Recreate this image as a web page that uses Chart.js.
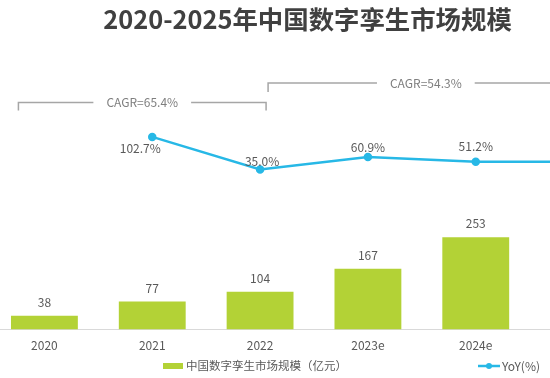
<!DOCTYPE html>
<html>
<head>
<meta charset="utf-8">
<script src="https://cdn.jsdelivr.net/npm/chart.js@4/dist/chart.umd.min.js"></script>
<style>
  html, body { margin: 0; padding: 0; background: #ffffff; overflow: hidden; width: 550px; height: 378px; }
  #wrap { position: absolute; left: -15px; top: 0; width: 658px; height: 378px; }
</style>
</head>
<body>
<div id="wrap"><canvas id="c"></canvas></div>
<script>
// ---- data ----
const categories = ['2020', '2021', '2022', '2023e', '2024e', '2025e'];
const marketSize = [38, 77, 104, 167, 253, 382];
const yoyGrowth = [null, 102.7, 35.0, 60.9, 51.2, 51.0];
const barSeriesName = '中国数字孪生市场规模（亿元）';
const lineSeriesName = 'YoY(%)';
const titleText = '2020-2025年中国数字孪生市场规模';
const cagrLabels = ['CAGR=65.4%', 'CAGR=54.3%'];

// ---- style ----
const FONT = '"Noto Sans CJK SC", "Noto Sans", sans-serif';
const BAR_COLOR = '#B3D236';
const LINE_COLOR = '#27B8E6';
const TEXT_COLOR = '#595959';
const OFFSET = 15; // page x -> canvas x

// label offsets for YoY labels relative to their point
const yoyLabelOffsets = [[0, 0], [-12, 12], [2, -8], [0, -10], [0, -15], [0, -15]];

const decorPlugin = {
  id: 'decor',
  afterDatasetsDraw(chart) {
    const ctx = chart.ctx;
    const xs = chart.scales.x;
    ctx.save();

    // bar value labels
    const barMeta = chart.getDatasetMeta(0);
    ctx.font = '12px ' + FONT;
    ctx.fillStyle = TEXT_COLOR;
    ctx.textAlign = 'center';
    ctx.textBaseline = 'middle';
    barMeta.data.forEach((el, i) => {
      ctx.fillText(String(marketSize[i]), el.x, el.y - 13.5);
    });

    // line value labels
    const lineMeta = chart.getDatasetMeta(1);
    lineMeta.data.forEach((el, i) => {
      if (yoyGrowth[i] == null) return;
      const o = yoyLabelOffsets[i];
      ctx.fillText(yoyGrowth[i].toFixed(1) + '%', el.x + o[0], el.y + o[1]);
    });

    // CAGR brackets
    ctx.strokeStyle = '#A6A6A6';
    ctx.lineWidth = 1.5;
    ctx.fillStyle = '#7F7F7F';
    function bracket(x1, x2, y, tick, text) {
      const cx = (x1 + x2) / 2;
      const w = ctx.measureText(text).width;
      const gap = w / 2 + 13;
      ctx.beginPath();
      ctx.moveTo(x1, y + tick); ctx.lineTo(x1, y); ctx.lineTo(cx - gap, y);
      ctx.moveTo(cx + gap, y); ctx.lineTo(x2, y); ctx.lineTo(x2, y + tick);
      ctx.stroke();
      ctx.fillText(text, cx, y);
    }
    bracket(xs.getPixelForValue(0) - 26, xs.getPixelForValue(2) + 6, 102.5, 8, cagrLabels[0]);
    bracket(xs.getPixelForValue(2) + 8, xs.getPixelForValue(5), 83, 9, cagrLabels[1]);

    // title
    ctx.font = 'bold 25.4px ' + FONT;
    ctx.fillStyle = '#404040';
    ctx.textAlign = 'center';
    ctx.fillText(titleText, 307.5 + OFFSET, 19);

    // legend
    ctx.font = '11.5px ' + FONT;
    ctx.fillStyle = BAR_COLOR;
    ctx.fillRect(163 + OFFSET, 363, 20, 6);
    ctx.fillStyle = TEXT_COLOR;
    ctx.textAlign = 'left';
    ctx.fillText(barSeriesName, 186 + OFFSET, 366);
    ctx.strokeStyle = LINE_COLOR;
    ctx.lineWidth = 2.5;
    ctx.beginPath();
    ctx.moveTo(478 + OFFSET, 366); ctx.lineTo(500 + OFFSET, 366);
    ctx.stroke();
    ctx.fillStyle = LINE_COLOR;
    ctx.beginPath();
    ctx.arc(489 + OFFSET, 366, 3, 0, Math.PI * 2);
    ctx.fill();
    ctx.fillStyle = TEXT_COLOR;
    ctx.font = '12px ' + FONT;
    ctx.fillText(lineSeriesName, 502 + OFFSET, 366);

    ctx.restore();
  }
};

new Chart(document.getElementById('c'), {
  data: {
    labels: categories,
    datasets: [
      {
        type: 'bar',
        label: barSeriesName,
        data: marketSize,
        backgroundColor: BAR_COLOR,
        barPercentage: 0.62,
        categoryPercentage: 1.0,
        yAxisID: 'y',
        order: 2
      },
      {
        type: 'line',
        label: lineSeriesName,
        data: yoyGrowth,
        borderColor: LINE_COLOR,
        backgroundColor: LINE_COLOR,
        borderWidth: 2.5,
        pointRadius: 3,
        pointHoverRadius: 3,
        tension: 0,
        spanGaps: false,
        yAxisID: 'y1',
        order: 1
      }
    ]
  },
  options: {
    responsive: true,
    maintainAspectRatio: false,
    animation: false,
    events: [],
    layout: { padding: { top: 54, bottom: 16, left: 0, right: 0 } },
    plugins: {
      legend: { display: false },
      title: { display: false },
      tooltip: { enabled: false }
    },
    scales: {
      x: {
        type: 'category',
        offset: true,
        grid: { display: false, drawTicks: false },
        border: { display: true, color: '#D9D9D9', width: 1 },
        ticks: { color: TEXT_COLOR, font: { family: FONT, size: 12 }, padding: 9, maxRotation: 0 }
      },
      y: { display: false, min: 0, max: 755 },
      y1: { display: false, min: -296.7, max: 274.5 }
    }
  },
  plugins: [decorPlugin]
});
</script>
</body>
</html>
